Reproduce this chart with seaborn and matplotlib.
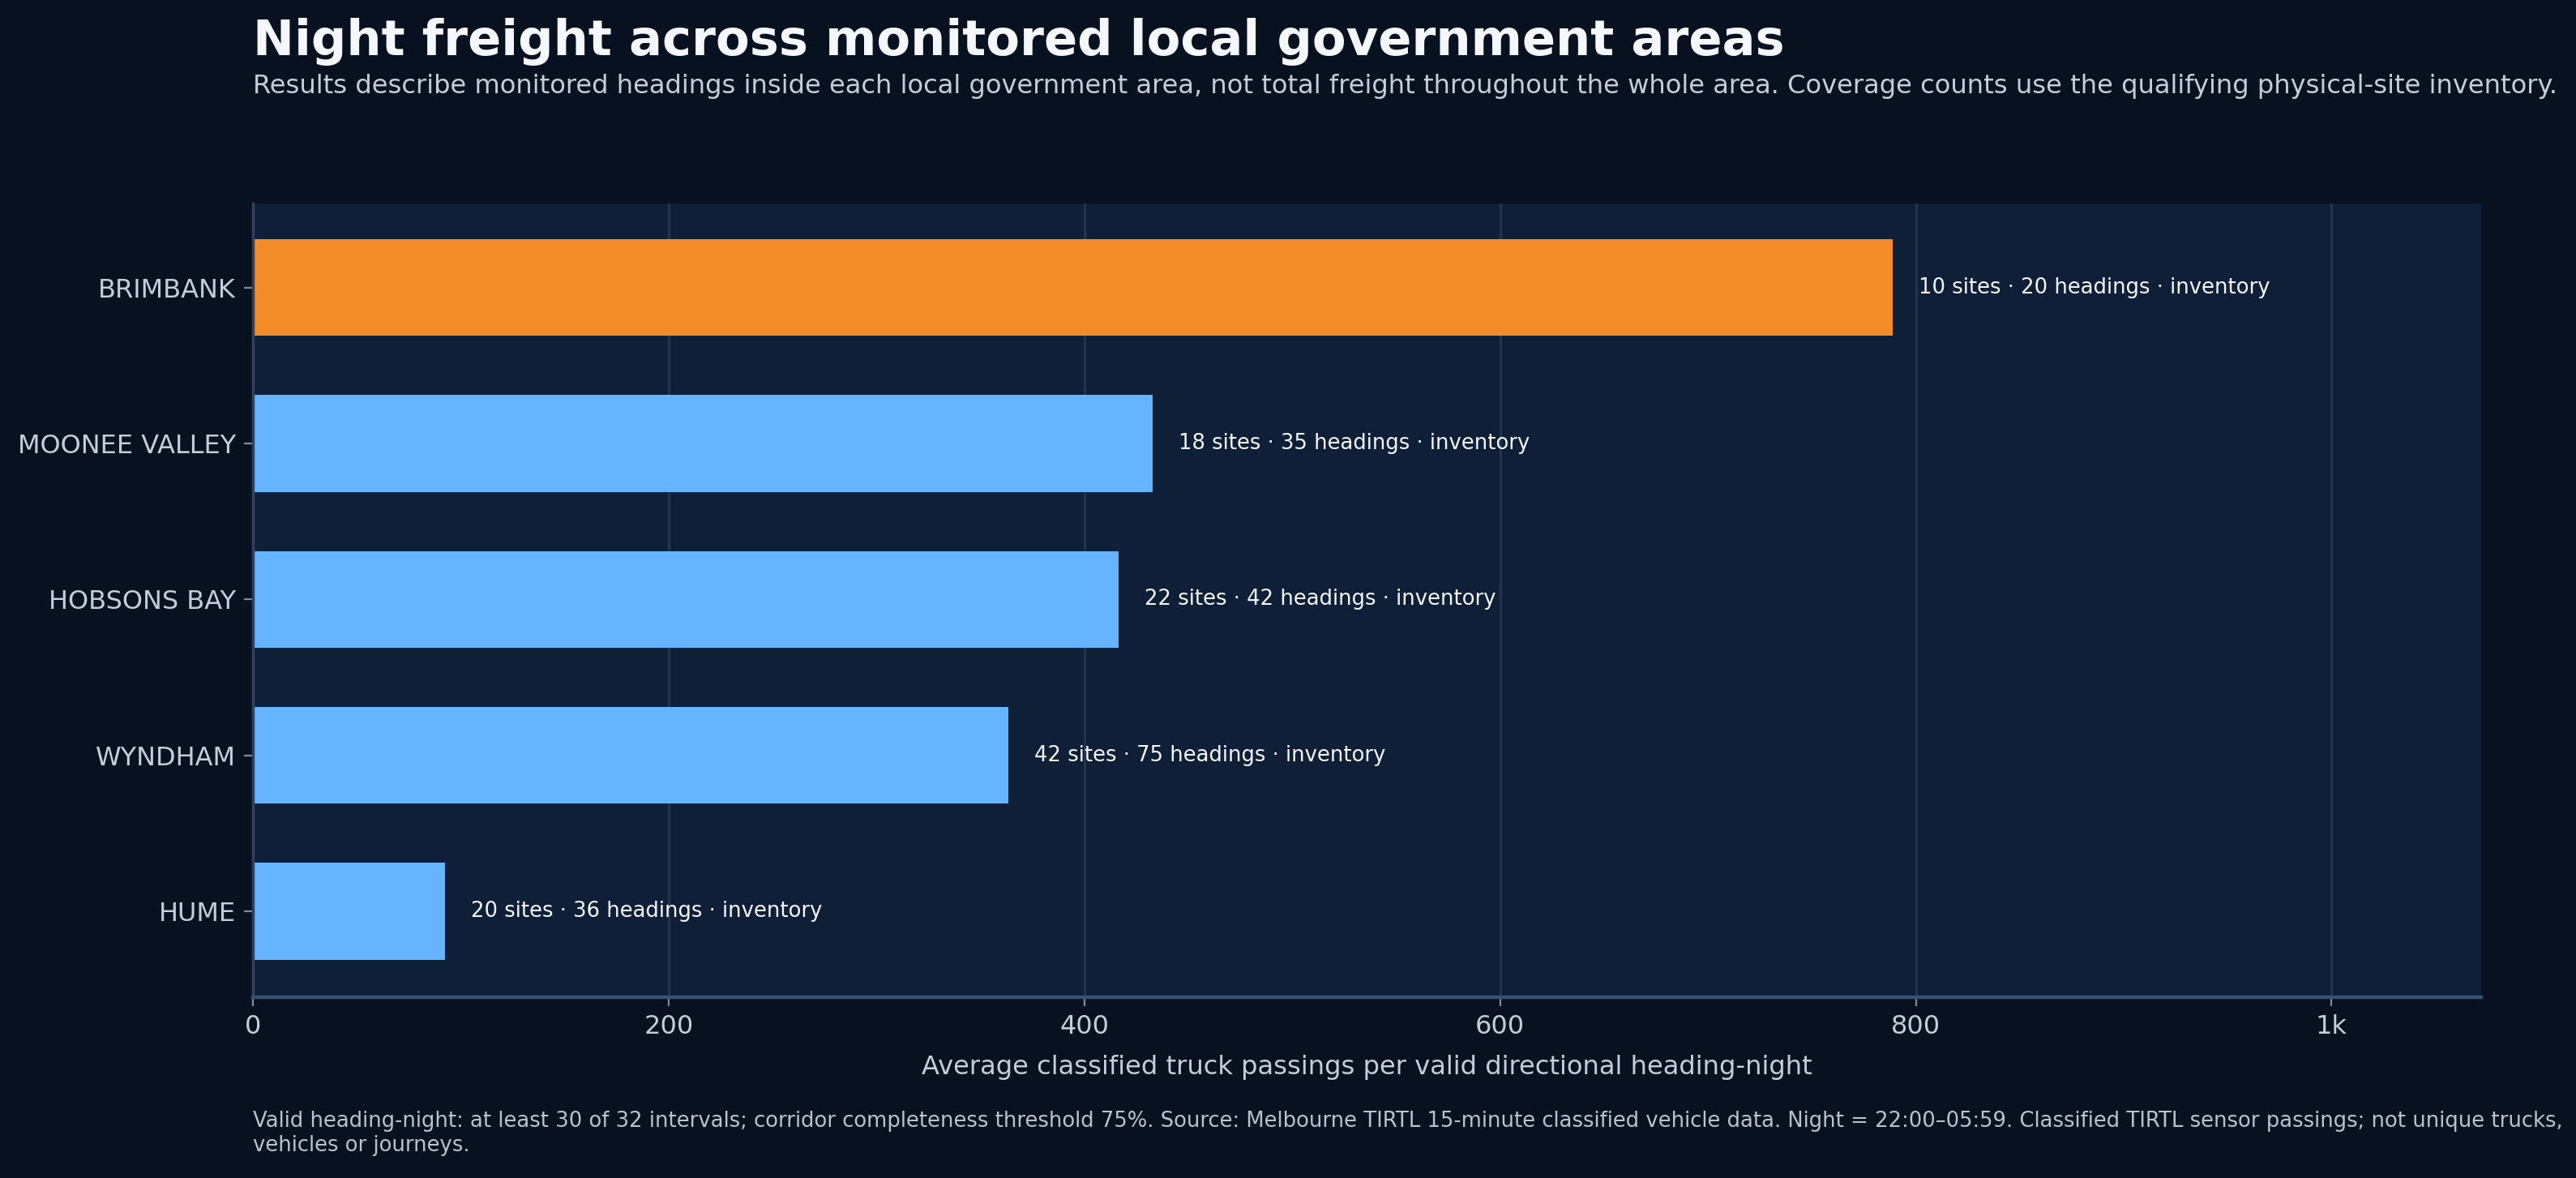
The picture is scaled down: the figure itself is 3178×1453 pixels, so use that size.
import matplotlib
matplotlib.use("Agg")
import matplotlib.pyplot as plt
import seaborn as sns
import pandas as pd
from matplotlib.ticker import FuncFormatter

areas = ["BRIMBANK", "MOONEE VALLEY", "HOBSONS BAY", "WYNDHAM", "HUME"]
avg_passings = [789, 433, 416.5, 363.5, 92.5]
sites = [10, 18, 22, 42, 20]
headings = [20, 35, 42, 75, 36]

FIG_BG = "#08111f"
AX_BG = "#0f1f38"
TEXT = "#c3cddb"
HIGHLIGHT = "#f28c28"
BASE = "#66b3ff"

df = pd.DataFrame({"area": areas, "value": avg_passings,
                   "sites": sites, "headings": headings})
palette = {a: (HIGHLIGHT if i == 0 else BASE) for i, a in enumerate(areas)}

sns.set_theme(style="dark")
plt.rcParams["font.family"] = ["DejaVu Sans"]

fig = plt.figure(figsize=(15.89, 7.265), dpi=200, facecolor=FIG_BG)
ax = fig.add_axes([0.0982, 0.1535, 0.865, 0.674])
ax.set_facecolor(AX_BG)

sns.barplot(data=df, y="area", x="value", hue="area", palette=palette,
            order=areas, width=0.62, legend=False, saturation=1,
            linewidth=0, edgecolor="none", ax=ax)

for i, row in df.iterrows():
    ax.annotate(f"{row['sites']} sites \u00b7 {row['headings']} headings \u00b7 inventory",
                xy=(row["value"], i), xytext=(11.5, 0), textcoords="offset points",
                va="center", ha="left", fontsize=9.3, color="#f2f5fa")

ax.set_xlim(0, 1072)
ax.set_ylim(4.55, -0.54)
ax.set_xticks([0, 200, 400, 600, 800, 1000])
ax.xaxis.set_major_formatter(FuncFormatter(lambda v, p: "1k" if v == 1000 else f"{v:.0f}"))
ax.grid(axis="x", color="#26364f", linewidth=1)
ax.grid(axis="y", visible=False)
ax.set_axisbelow(True)

for s in ["top", "right"]:
    ax.spines[s].set_visible(False)
ax.spines["left"].set_color("#2e4260")
ax.spines["bottom"].set_color("#3a5070")
ax.spines["bottom"].set_linewidth(1.6)

ax.tick_params(axis="both", colors="#7d8ba0", labelcolor=TEXT, labelsize=11.5,
               length=4, width=0.8, bottom=True, left=True)
ax.set_ylabel("")
ax.set_xlabel("Average classified truck passings per valid directional heading-night",
              fontsize=11.55, color=TEXT, labelpad=7)

fig.text(0.0982, 0.985, "Night freight across monitored local government areas",
         fontsize=21.9, fontweight="bold", color="#f4f7fb", va="top", ha="left")
fig.text(0.0982, 0.927,
         "Results describe monitored headings inside each local government area, not total freight "
         "throughout the whole area. Coverage counts use the qualifying physical-site inventory.",
         fontsize=11.55, color=TEXT, va="center", ha="left")
fig.text(0.0982, 0.038,
         "Valid heading-night: at least 30 of 32 intervals; corridor completeness threshold 75%. "
         "Source: Melbourne TIRTL 15-minute classified vehicle data. Night = 22:00\u201305:59. "
         "Classified TIRTL sensor passings; not unique trucks,\nvehicles or journeys.",
         fontsize=9.3, color="#b7c1cf", va="center", ha="left", linespacing=1.2)

fig.savefig("out.png", dpi=200, facecolor=FIG_BG)
